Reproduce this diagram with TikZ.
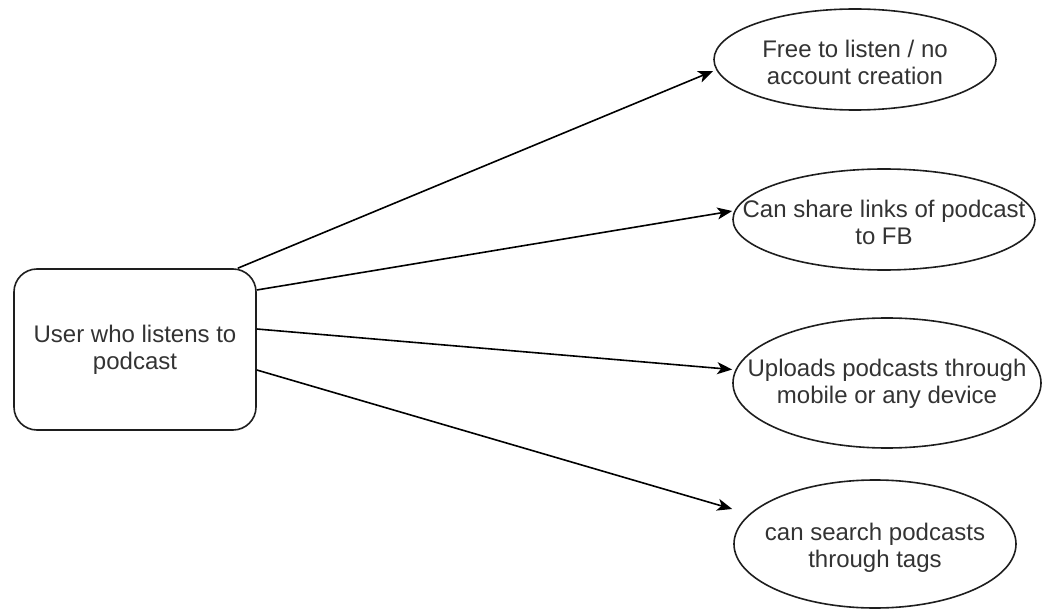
\documentclass[tikz,border=0pt]{standalone}
\usepackage{fontspec}
\setmainfont{Liberation Sans}
\usetikzlibrary{shapes.geometric,arrows.meta,calc}
\definecolor{txtgray}{HTML}{333333}
\definecolor{edge}{HTML}{1E1E1E}
\tikzset{
  shapeline/.style={draw=edge, line width=1.6bp},
  ell/.style={shapeline, ellipse, inner sep=0pt},
  txt/.style={text=txtgray, align=center, font=\fontsize{24bp}{27bp}\selectfont, inner sep=0pt},
  conn/.style={draw=black, line width=1.6bp, -{Stealth[length=15bp,width=12bp,inset=4bp]}}
}
\begin{document}
\begin{tikzpicture}[x=1bp,y=-1bp]
\useasboundingbox (0,0) rectangle (1042,609);
\node[shapeline, rounded corners=23bp, minimum width=242bp, minimum height=161bp, inner sep=0pt] (u) at (135,349.5) {};
\node[txt] (ut) at (u.center) {User who listens to\\podcast};

\node[ell, minimum width=282bp, minimum height=101bp] (e1) at (855,59.5) {};
\node[txt] (e1t) at ($(e1.center)+(0,3)$) {Free to listen / no\\account creation};

\node[ell, minimum width=302bp, minimum height=101bp] (e2) at (884,219.5) {};
\node[txt] (e2t) at ($(e2.center)+(0,3)$) {Can share links of podcast\\to FB};

\node[ell, minimum width=308bp, minimum height=130bp] (e3) at (887,383) {};
\node[txt] (e3t) at ($(e3.center)+(0,1)$) {Uploads podcasts through\\mobile or any device};

\node[ell, minimum width=282bp, minimum height=128bp] (e4) at (875,544) {};
\node[txt] (e4t) at ($(e4.center)+(0,4)$) {can search podcasts\\through tags};

\draw[conn] ($(u.north east)+(-19,0)$) -- ($(e1.west)+(0,11.5)$);
\draw[conn] ($(u.east)+(0,-59.5)$) -- ($(e2.west)+(0,-8.5)$);
\draw[conn] ($(u.east)+(0,-20.5)$) -- ($(e3.west)+(0,-13.5)$);
\draw[conn] ($(u.east)+(0,20.5)$) -- ($(e4.west)+(-1,-35)$);
\end{tikzpicture}
\end{document}
